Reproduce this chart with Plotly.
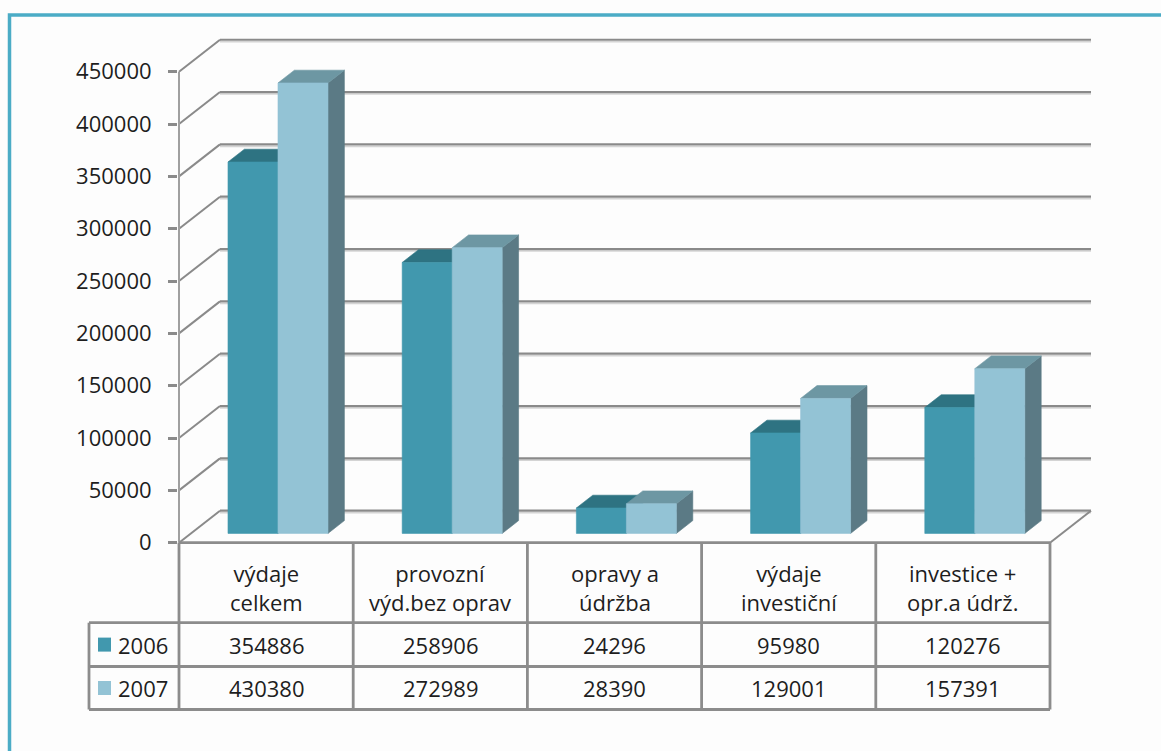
import plotly.graph_objects as go

# ---- data ----
categories = ["výdaje<br>celkem", "provozní<br>výd.bez oprav", "opravy a<br>údržba",
              "výdaje<br>investiční", "investice +<br>opr.a údrž."]
years = ["2006", "2007"]
values_2006 = [354886, 258906, 24296, 95980, 120276]
values_2007 = [430380, 272989, 28390, 129001, 157391]
y_ticks = [0, 50000, 100000, 150000, 200000, 250000, 300000, 350000, 400000, 450000]

series = [values_2006, values_2007]

# ---- page geometry (pixels) ----
W, H = 1161, 751
PX_LEFT = 179.0        # front-left corner of the plot box
CAT_PX = 174.2         # width of one category on the front plane
PX_ZERO = 542.7        # vertical pixel of value 0 on the front plane
PX_PER_UNIT = 52.33 / 50000.0

def px_to_u(px):
    return (px - PX_LEFT) / CAT_PX

def px_to_v(py):
    return (PX_ZERO - py) / PX_PER_UNIT

def pap_x(px):
    return px / W

def pap_y(py):
    return 1 - py / H

# 3-D depth of the walls, expressed in axis units
DEPTH_U = 41.0 / CAT_PX
DEPTH_V = 32.0 / PX_PER_UNIT
# bars occupy this slice of the depth
F_FRONT, F_BACK = 0.29, 0.69
BAR_W = 50.0 / CAT_PX
N = len(categories)

front_cols = ["#4198AE", "#93C3D5"]
top_cols = ["#2E7382", "#6D97A3"]
side_cols = ["#2C6A7A", "#5B7A85"]
GRID = "#8A8A8A"
TEXT = "#1E1E1E"
FONT = "Open Sans"

fig = go.Figure()

def poly(xs, ys, color):
    fig.add_trace(go.Scatter(
        x=xs + [xs[0]], y=ys + [ys[0]], mode="lines", fill="toself",
        fillcolor=color, line=dict(color=color, width=0.6),
        hoverinfo="skip", showlegend=False))

def seg(x0, y0, x1, y1, color=GRID, width=2.2, yref="y"):
    fig.add_shape(type="line", xref="x", yref=yref, x0=x0, y0=y0, x1=x1, y1=y1,
                  line=dict(color=color, width=width), layer="below" if yref == "y" else "above")

# ---- walls: back gridlines, side diagonals, floor ----
for t in y_ticks:
    # light shading line under each back gridline
    seg(DEPTH_U, t + DEPTH_V - 2.0 / PX_PER_UNIT, N + DEPTH_U, t + DEPTH_V - 2.0 / PX_PER_UNIT,
        color="#D4D4D4", width=1.5)
    seg(DEPTH_U, t + DEPTH_V, N + DEPTH_U, t + DEPTH_V)
    seg(0, t, DEPTH_U, t + DEPTH_V, width=2)
# floor right edge
seg(N, 0, N + DEPTH_U, DEPTH_V, width=2)
# front value axis line
seg(0, 0, 0, y_ticks[-1], color="#A0A0A0", width=2)

# ---- 3-D bars ----
for i in range(N):
    for s, vals in enumerate(series):
        val = vals[i]
        xl = i + 0.5 - BAR_W + s * BAR_W
        xr = xl + BAR_W
        fu0, fv0 = F_FRONT * DEPTH_U, F_FRONT * DEPTH_V
        fu1, fv1 = F_BACK * DEPTH_U, F_BACK * DEPTH_V
        # side face
        poly([xr + fu0, xr + fu1, xr + fu1, xr + fu0],
             [fv0, fv1, val + fv1, val + fv0], side_cols[s])
        # top face
        poly([xl + fu0, xr + fu0, xr + fu1, xl + fu1],
             [val + fv0, val + fv0, val + fv1, val + fv1], top_cols[s])
        # front face
        poly([xl + fu0, xr + fu0, xr + fu0, xl + fu0],
             [fv0, fv0, val + fv0, val + fv0], front_cols[s])

# ---- data table under the plot ----
TBL_LINE = "#8C8C8C"
ROW_Y = [542.7, 622.7, 666.5, 709.5]    # header top, header bottom, row lines
LEG_LEFT_U = px_to_u(89)

# horizontal rules
fig.add_shape(type="line", xref="x", yref="y", x0=0, x1=N, y0=0, y1=0,
              line=dict(color=TBL_LINE, width=2.8))
for py in ROW_Y[1:]:
    fig.add_shape(type="line", xref="x", yref="paper", x0=LEG_LEFT_U, x1=N,
                  y0=pap_y(py), y1=pap_y(py), line=dict(color=TBL_LINE, width=2.8))
# vertical rules
for k in range(N + 1):
    fig.add_shape(type="line", xref="x", yref="paper", x0=k, x1=k,
                  y0=pap_y(ROW_Y[0]), y1=pap_y(ROW_Y[-1]),
                  line=dict(color=TBL_LINE, width=2.8))
fig.add_shape(type="line", xref="x", yref="paper", x0=LEG_LEFT_U, x1=LEG_LEFT_U,
              y0=pap_y(ROW_Y[1]), y1=pap_y(ROW_Y[-1]), line=dict(color=TBL_LINE, width=2.8))

# header labels
for i, c in enumerate(categories):
    fig.add_annotation(x=i + 0.5, xref="x", y=pap_y((ROW_Y[0] + ROW_Y[1]) / 2 + 5), yref="paper",
                       text=c, showarrow=False, xanchor="center", yanchor="middle",
                       font=dict(family=FONT, size=22, color=TEXT))

# value rows with legend keys
for s, (yr, vals) in enumerate(zip(years, series)):
    cy = (ROW_Y[1 + s] + ROW_Y[2 + s]) / 2
    fig.add_shape(type="rect", xref="paper", yref="paper",
                  x0=pap_x(98), x1=pap_x(111), y0=pap_y(cy - 7), y1=pap_y(cy + 7),
                  fillcolor=front_cols[s], line=dict(width=0))
    fig.add_annotation(x=pap_x(116), xref="paper", y=pap_y(cy), yref="paper",
                       text=yr, showarrow=False, xanchor="left", yanchor="middle",
                       font=dict(family=FONT, size=22, color=TEXT))
    for i, v in enumerate(vals):
        fig.add_annotation(x=i + 0.5, xref="x", y=pap_y(cy), yref="paper",
                           text=str(v), showarrow=False, xanchor="center", yanchor="middle",
                           font=dict(family=FONT, size=22, color=TEXT))

# outer chart frame
fig.add_shape(type="rect", xref="paper", yref="paper",
              x0=pap_x(9.5), x1=1.05, y0=-0.05, y1=pap_y(15),
              line=dict(color="#4BACC6", width=3.5), fillcolor="rgba(0,0,0,0)")

fig.update_layout(
    width=W, height=H,
    margin=dict(l=0, r=0, t=0, b=0),
    paper_bgcolor="#FFFFFF", plot_bgcolor="#FDFDFD",
    showlegend=False,
    xaxis=dict(range=[px_to_u(0), px_to_u(W)], visible=False, fixedrange=True),
    yaxis=dict(range=[px_to_v(H), px_to_v(0)], anchor="free", position=177 / W,
               showgrid=False, zeroline=False, showline=False,
               tickmode="array", tickvals=y_ticks, ticktext=[str(t) for t in y_ticks],
               ticks="outside", ticklen=9, tickwidth=2.5, tickcolor=GRID,
               ticklabelstandoff=12,
               tickfont=dict(family=FONT, size=22, color=TEXT), fixedrange=True),
)

fig.write_html("out.html")
